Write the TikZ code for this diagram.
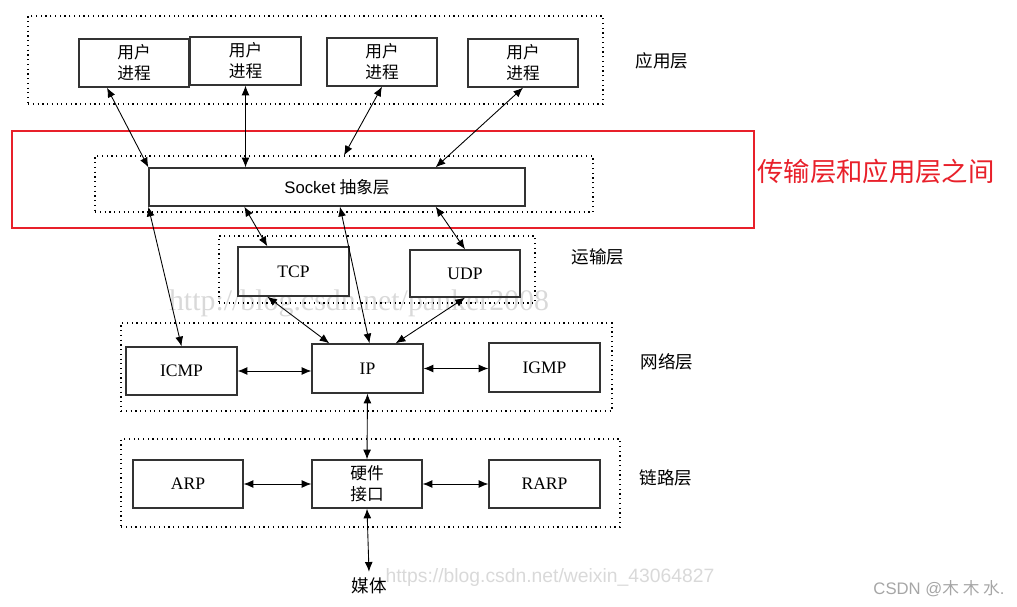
\documentclass[tikz,border=0pt]{standalone}
\usepackage{fontspec}
\usepackage{xcolor}
\usepackage{tikz}
\usetikzlibrary{arrows.meta, calc}
\setmainfont{Liberation Serif}
\setsansfont{Liberation Sans}
\newfontfamily\cjk{Noto Sans CJK SC}
\definecolor{NoteRed}{HTML}{E8202A}
\definecolor{BoxLine}{HTML}{333333}

\begin{document}
\begin{tikzpicture}[x=0.02cm, y=-0.02cm,
    box/.style={draw=BoxLine, line width=0.8pt, inner sep=0pt,
                minimum width=2.2cm, minimum height=0.96cm,
                align=center, font=\fontsize{10}{12}\selectfont},
    procbox/.style={box, font=\cjk\fontsize{9.5}{12}\selectfont},
    layerbox/.style={draw, dotted, line width=0.7pt, inner sep=0pt},
    layername/.style={font=\cjk\fontsize{10}{12}\selectfont},
    link/.style={{Latex[length=5.5pt,width=4.5pt]}-{Latex[length=5.5pt,width=4.5pt]},
                 line width=0.5pt}]
  \useasboundingbox (0,0) rectangle (1017,607);
  \node[text=gray!30, font=\fontsize{17}{17}\selectfont] (mark1) at (359,303)
    {http://blog.csdn.net/panker2008};
  \node[text=gray!30, font=\sffamily\fontsize{11}{11}\selectfont] (mark2) at (550,578)
    {https://blog.csdn.net/weixin\_43064827};
  \node[text=gray!70, font=\sffamily\fontsize{9.5}{10}\selectfont] (mark3) at (939,589)
    {CSDN @{\cjk 木 木 水}.};

  \node[layerbox, minimum width=11.5cm, minimum height=1.76cm] (applayer) at (315.5,60) {};
  \node[layerbox, minimum width=9.96cm, minimum height=1.12cm] (socklayer) at (344,184) {};
  \node[layerbox, minimum width=6.32cm, minimum height=1.34cm] (translayer) at (377,269.5) {};
  \node[layerbox, minimum width=9.82cm, minimum height=1.76cm] (netlayer) at (366.5,367) {};
  \node[layerbox, minimum width=9.98cm, minimum height=1.76cm] (linklayer) at (370.5,483) {};

  \node[procbox] (u1) at (134,63) {用户\\进程};
  \node[procbox, minimum width=2.22cm] (u2) at (245.5,61) {用户\\进程};
  \node[procbox] (u3) at (382,62) {用户\\进程};
  \node[procbox] (u4) at (523,63) {用户\\进程};

  \node[box, minimum width=7.52cm, minimum height=0.76cm,
        font=\fontsize{9.5}{10}\selectfont] (sock) at (337,187)
    {{\sffamily Socket} {\cjk 抽象层}};

  \node[box, minimum width=2.22cm, minimum height=0.98cm] (tcp) at (293.5,271.5) {TCP};
  \node[box, minimum height=0.94cm] (udp) at (465,273.5) {UDP};

  \node[box, minimum width=2.22cm] (icmp) at (181.5,371) {ICMP};
  \node[box, minimum width=2.22cm, minimum height=0.98cm] (ip) at (367.5,368.5) {IP};
  \node[box, minimum width=2.22cm, minimum height=0.98cm] (igmp) at (544.5,367.5) {IGMP};

  \node[box] (arp) at (188,484) {ARP};
  \node[procbox] (hw) at (367,484) {硬件\\接口};
  \node[box, minimum width=2.22cm] (rarp) at (544.5,484) {RARP};

  \node[layername] (media) at (369,586) {媒体};

  \node[layername] (appname) at (662,61) {应用层};
  \node[layername] (transname) at (598,257) {运输层};
  \node[layername] (netname) at (667,362) {网络层};
  \node[layername] (linkname) at (666,478) {链路层};

  \node[draw=NoteRed, line width=1pt, minimum width=14.84cm, minimum height=1.94cm,
        inner sep=0pt] (note) at (383,179.5) {};
  \node[text=NoteRed, font=\cjk\fontsize{15}{18}\selectfont, anchor=west,
        inner sep=0pt] (notename) at (757,172) {传输层和应用层之间};

  \draw[link] ($(u1.south)+(-27,0)$) -- (sock.north west);
  \draw[link] (u2.south) -- (u2.south |- sock.north);
  \draw[link] (u3.south) -- (socklayer.north);
  \draw[link] (u4.south) -- ($(sock.north east)+(-90,0)$);

  \draw[link] (sock.south west) -- (icmp.north);
  \draw[link] ($(sock.south west)+(96,0)$) -- ($(tcp.north west)+(30,0)$);
  \draw[link] ($(sock.south)+(3,0)$) -- ($(ip.north)+(2,0)$);
  \draw[link] ($(sock.south east)+(-90,0)$) -- (udp.north);

  \draw[link] ($(tcp.south west)+(30,0)$) -- ($(ip.north west)+(18,0)$);
  \draw[link] (udp.south) -- ($(ip.north east)+(-28,0)$);
  \draw[link] (icmp.east) -- (icmp.east -| ip.west);
  \draw[link] (ip.east) -- (ip.east -| igmp.west);
  \draw[link] (ip.south) -- (hw.north);

  \draw[link] (arp.east) -- (hw.west);
  \draw[link] (hw.east) -- (rarp.west);
  \draw[link] (hw.south) -- (media.north);
\end{tikzpicture}
\end{document}
